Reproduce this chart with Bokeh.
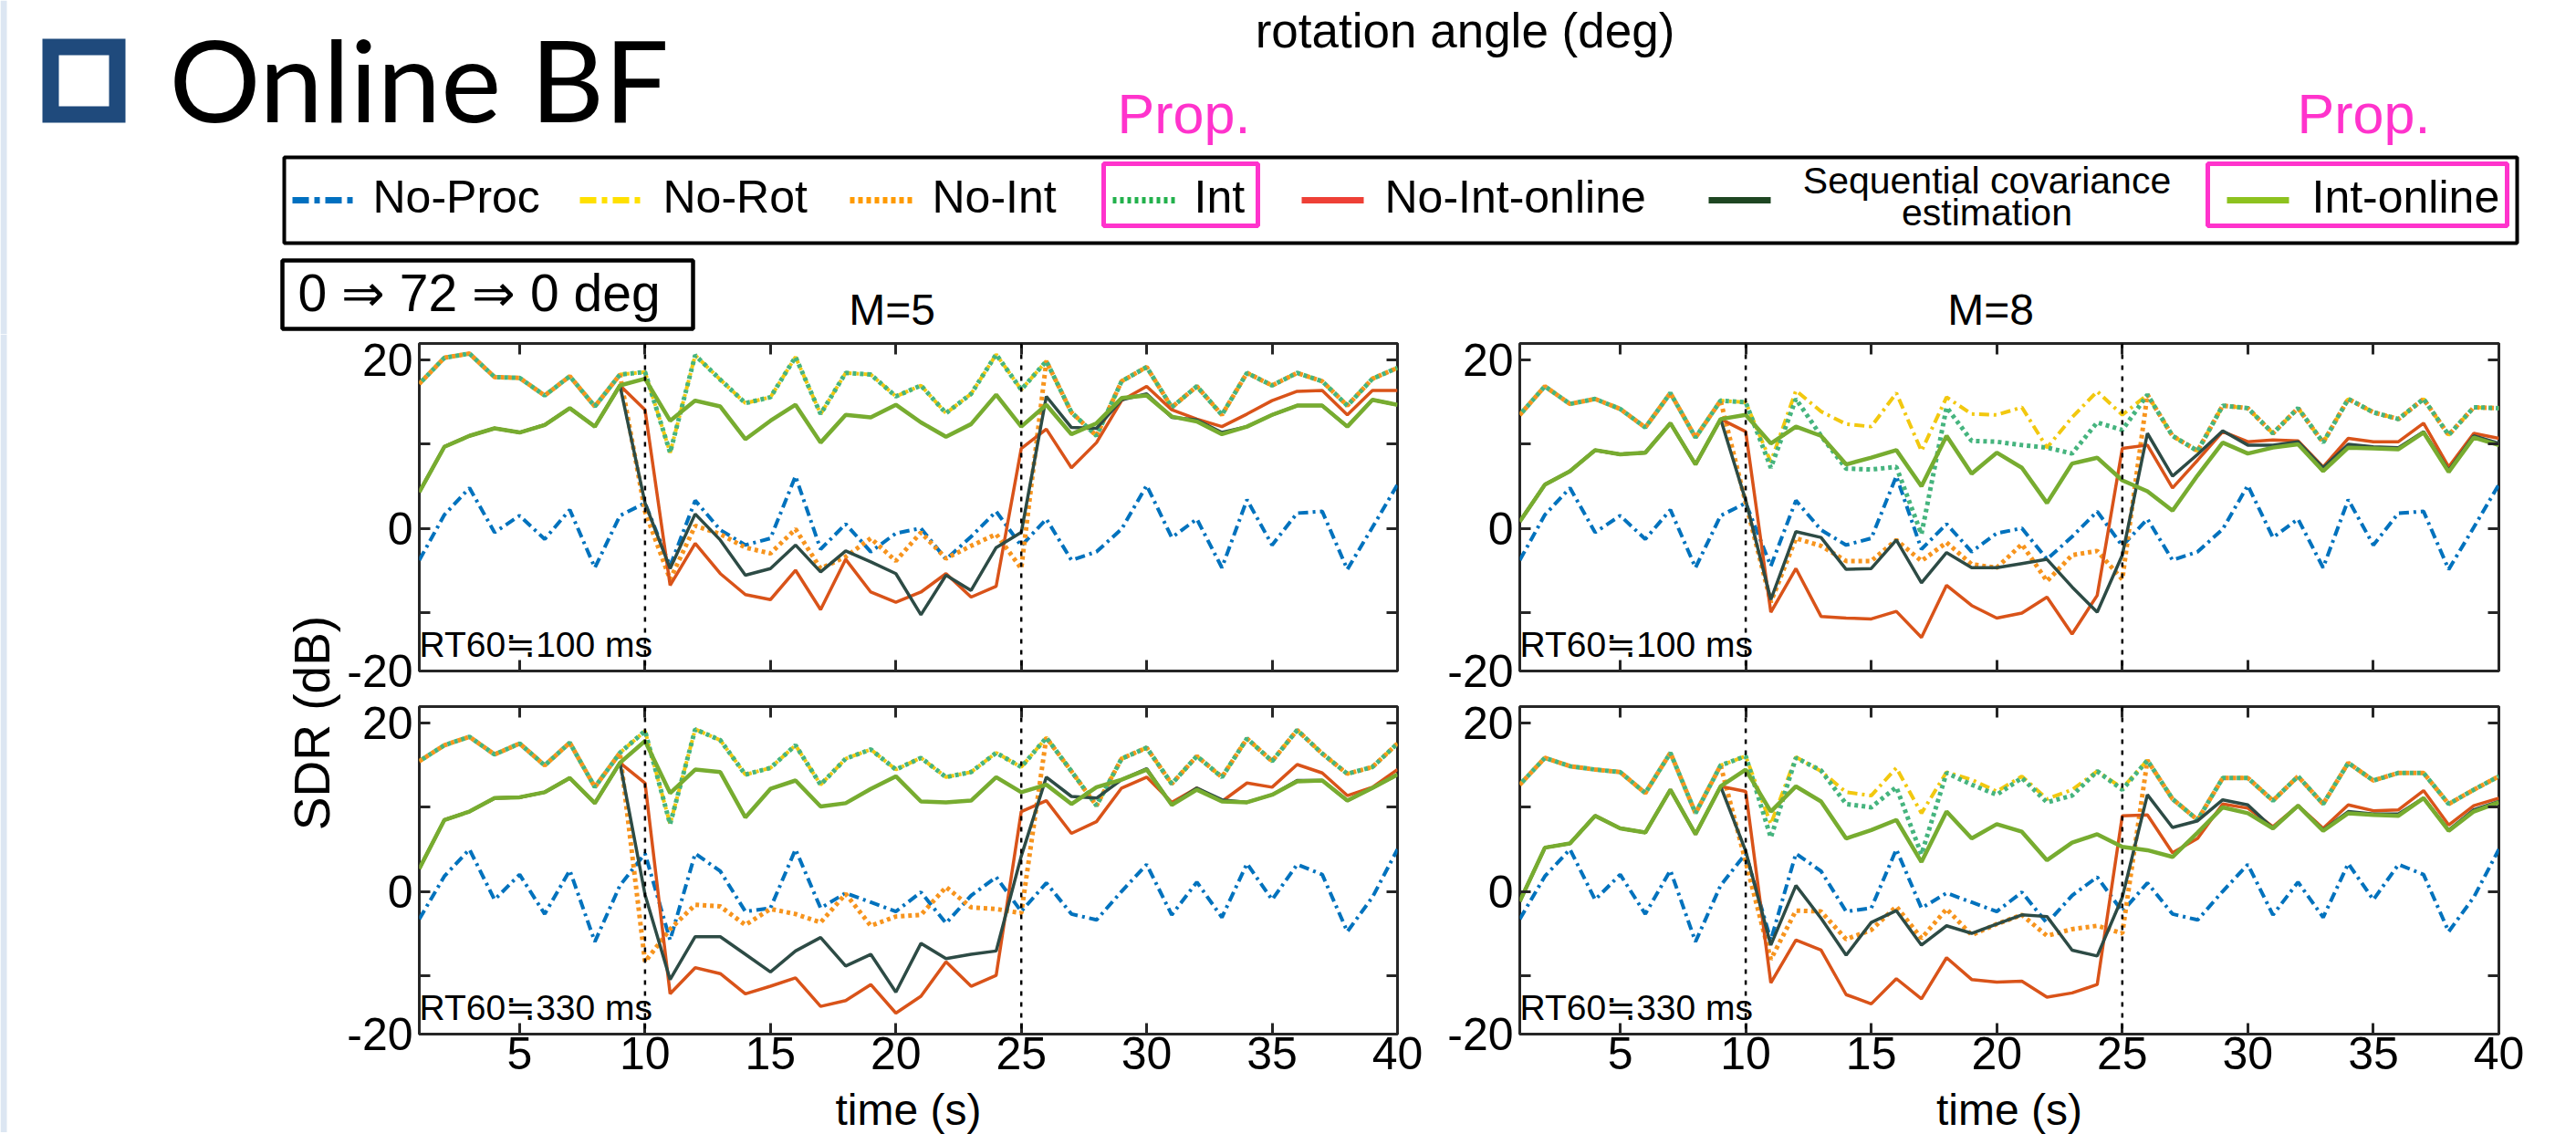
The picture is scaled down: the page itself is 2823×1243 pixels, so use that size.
import math
from bokeh.plotting import figure
from bokeh.layouts import column, row
from bokeh.models import Range1d, LinearAxis, FixedTicker, Span
from bokeh.embed import file_html
from bokeh.resources import INLINE
from bokeh.core.properties import value

FONT = "Liberation Sans"

# ---------------- data ----------------
TIME = list(range(1, 41))
X_LIM = (1, 40)
Y_LIM = (-17, 22)
X_TICKS = [5, 10, 15, 20, 25, 30, 35, 40]
Y_TICKS = [-10, 0, 10, 20]
Y_LABEL_OVERRIDES = {-17: "-20", -10: "", 10: ""}
CHANGE_TIMES = [10, 25]
PANEL_TITLES = ["M=5", "M=8"]
RT_LABELS = ["RT60≒100 ms", "RT60≒330 ms"]
X_TITLE = "time (s)"
Y_TITLE = "SDR (dB)"

NOPROC_RT100 = [-3.8, 1.6, 4.8, -0.5, 1.5, -1.3, 2.2, -4.7, 1.5, 3.0, -4.5, 3.3, -0.2, -2.0, -1.2, 6.2, -2.5, 0.5, -2.8, -0.6,
                0.0, -3.7, -1.0, 2.0, -2.1, 1.1, -3.8, -2.8, -0.1, 5.1, -1.1, 1.1, -4.7, 3.4, -2.0, 1.8, 2.0, -4.9, 0.1, 5.2]
NOPROC_RT330 = [-3.3, 1.8, 5.0, -1.0, 2.0, -2.7, 2.5, -6.0, 0.7, 4.5, -5.8, 4.5, 2.4, -2.4, -2.0, 5.0, -2.0, -0.2, -1.3, -2.4,
                -0.1, -3.8, -0.5, 1.7, -2.4, 1.0, -2.7, -3.4, 0.0, 3.2, -2.8, 1.1, -3.1, 3.3, -1.0, 3.2, 2.0, -4.8, -0.7, 5.0]

# M=5, RT60 100 ms
INT_M5_RT100 = [17.2, 20.3, 20.8, 18.0, 17.9, 15.8, 18.1, 14.5, 18.3, 18.6, 9.0, 20.6, 17.7, 14.9, 15.6, 20.4, 13.6, 18.5, 18.3, 15.7,
                17.0, 13.7, 16.0, 20.7, 16.5, 19.9, 13.8, 11.0, 17.5, 19.2, 14.4, 16.9, 13.5, 18.5, 17.0, 18.5, 17.5, 14.6, 17.8, 19.1]
NOROT_M5_RT100 = [17.2, 20.3, 20.8, 18.0, 17.9, 15.8, 18.1, 14.5, 18.3, 18.6, 9.0, 20.6, 17.7, 14.9, 15.6, 20.4, 13.6, 18.5, 18.3, 15.7,
                  17.0, 13.7, 16.0, 20.7, 16.5, 19.9, 13.8, 11.0, 17.5, 19.2, 14.4, 16.9, 13.5, 18.5, 17.0, 18.5, 17.5, 14.6, 17.8, 19.1]
NOINT_M5_RT100 = [17.2, 20.3, 20.8, 18.0, 17.9, 15.8, 18.1, 14.5, 18.3, 2.0, -6.1, 0.3, -0.7, -2.3, -3.0, -0.1, -4.8, -3.4, -1.2, -3.9,
                  -0.5, -3.6, -2.1, -0.7, -4.8, 19.9, 13.8, 11.0, 17.5, 19.2, 14.4, 16.9, 13.5, 18.5, 17.0, 18.5, 17.5, 14.6, 17.8, 19.1]
NOINTONLINE_M5_RT100 = [4.3, 9.7, 11.0, 11.9, 11.4, 12.3, 14.3, 12.1, 17.0, 14.1, -6.8, -1.8, -5.4, -7.9, -8.5, -5.0, -9.7, -3.7, -7.6, -8.8,
                        -7.6, -5.4, -8.2, -6.9, 9.5, 11.8, 7.2, 10.2, 15.2, 16.9, 14.1, 13.0, 12.1, 13.6, 15.2, 16.3, 16.4, 13.5, 16.4, 16.4]
SEQ_M5_RT100 = [4.3, 9.7, 11.0, 11.9, 11.4, 12.3, 14.3, 12.1, 17.0, 3.0, -4.8, 1.7, -1.4, -5.6, -4.8, -2.0, -5.2, -2.7, -4.0, -5.4,
                -10.3, -5.6, -7.4, -2.3, -0.5, 15.7, 12.0, 11.9, 15.3, 16.0, 13.2, 12.9, 11.4, 12.1, 13.5, 14.6, 14.6, 12.1, 15.3, 14.7]
INTONLINE_M5_RT100 = [4.3, 9.7, 11.0, 11.9, 11.4, 12.3, 14.3, 12.1, 17.0, 17.8, 12.8, 15.2, 14.5, 10.6, 12.8, 14.7, 10.2, 13.5, 13.2, 14.7,
                      12.6, 10.9, 12.4, 15.9, 12.1, 14.7, 11.2, 12.5, 15.5, 15.8, 13.3, 12.7, 11.2, 12.1, 13.5, 14.6, 14.6, 12.1, 15.3, 14.7]

# M=8, RT60 100 ms
INT_M8_RT100 = [13.5, 16.9, 14.8, 15.4, 14.2, 12.0, 16.1, 10.8, 15.2, 15.0, 7.2, 15.4, 11.0, 7.1, 7.0, 7.3, -0.7, 14.4, 10.4, 10.3,
                9.9, 9.6, 8.9, 12.6, 11.7, 15.9, 11.0, 9.2, 14.6, 14.3, 11.3, 14.3, 10.2, 15.4, 13.8, 13.0, 15.4, 11.1, 14.4, 14.3]
NOROT_M8_RT100 = [13.5, 16.9, 14.8, 15.4, 14.2, 12.0, 16.1, 10.8, 15.2, 15.0, 7.9, 16.4, 13.9, 12.4, 12.1, 16.1, 9.2, 15.6, 13.6, 13.5,
                  14.4, 9.6, 13.2, 16.3, 13.5, 15.9, 11.0, 9.2, 14.6, 14.3, 11.3, 14.3, 10.2, 15.4, 13.8, 13.0, 15.4, 11.1, 14.4, 14.3]
NOINT_M8_RT100 = [13.5, 16.9, 14.8, 15.4, 14.2, 12.0, 16.1, 10.8, 15.2, 3.0, -8.8, -1.2, -2.1, -3.9, -3.9, -1.4, -3.9, -1.7, -4.3, -4.7,
                  -1.9, -6.3, -3.2, -2.7, -6.1, 15.9, 11.0, 9.2, 14.6, 14.3, 11.3, 14.3, 10.2, 15.4, 13.8, 13.0, 15.4, 11.1, 14.4, 14.3]
NOINTONLINE_M8_RT100 = [0.8, 5.2, 6.8, 9.3, 8.8, 9.0, 12.5, 7.6, 13.0, 11.5, -10.0, -4.8, -10.5, -10.7, -10.8, -9.9, -13.0, -6.8, -9.2, -10.7,
                        -10.1, -8.2, -12.6, -8.0, 9.5, 9.9, 4.8, 8.1, 11.5, 10.3, 10.5, 10.4, 7.3, 10.7, 10.3, 10.3, 12.5, 7.3, 11.3, 10.7]
SEQ_M8_RT100 = [0.8, 5.2, 6.8, 9.3, 8.8, 9.0, 12.5, 7.6, 13.0, 3.3, -8.5, -0.4, -1.1, -4.9, -4.8, -1.4, -6.5, -2.9, -4.7, -4.7,
                -4.2, -3.7, -7.0, -10.0, -3.2, 11.3, 6.2, 8.8, 11.6, 9.9, 9.9, 10.3, 7.2, 10.0, 9.7, 9.6, 11.5, 6.9, 11.0, 10.1]
INTONLINE_M8_RT100 = [0.8, 5.2, 6.8, 9.3, 8.8, 9.0, 12.5, 7.6, 13.0, 13.5, 10.1, 12.1, 11.0, 7.6, 8.4, 9.3, 5.0, 11.0, 6.5, 9.0,
                      7.2, 3.0, 7.7, 8.4, 5.7, 4.4, 2.1, 6.3, 10.2, 8.9, 9.6, 10.0, 6.8, 9.6, 9.5, 9.4, 11.4, 6.7, 10.8, 9.9]

# M=5, RT60 330 ms
INT_M5_RT330 = [15.5, 17.4, 18.4, 16.3, 17.6, 15.0, 17.7, 12.4, 16.5, 19.1, 8.0, 19.3, 18.0, 13.9, 14.7, 17.4, 12.7, 15.8, 16.9, 14.5,
                15.9, 13.6, 14.2, 16.5, 14.8, 18.3, 14.3, 10.2, 15.8, 17.1, 12.8, 16.1, 13.6, 18.2, 15.5, 19.2, 16.4, 14.0, 14.8, 17.6]
NOROT_M5_RT330 = [15.5, 17.4, 18.4, 16.3, 17.6, 15.0, 17.7, 12.4, 16.5, 19.1, 8.0, 19.3, 18.0, 13.9, 14.7, 17.4, 12.7, 15.8, 16.9, 14.5,
                  15.9, 13.6, 14.2, 16.5, 14.8, 18.3, 14.3, 10.2, 15.8, 17.1, 12.8, 16.1, 13.6, 18.2, 15.5, 19.2, 16.4, 14.0, 14.8, 17.6]
NOINT_M5_RT330 = [15.5, 17.4, 18.4, 16.3, 17.6, 15.0, 17.7, 12.4, 16.5, -8.4, -4.5, -1.6, -1.8, -4.0, -2.1, -2.7, -3.7, -0.3, -4.1, -3.0,
                  -2.8, 0.5, -1.9, -2.1, -2.6, 18.3, 14.3, 10.2, 15.8, 17.1, 12.8, 16.1, 13.6, 18.2, 15.5, 19.2, 16.4, 14.0, 14.8, 17.6]
NOINTONLINE_M5_RT330 = [2.7, 8.5, 9.5, 11.1, 11.2, 11.8, 13.5, 10.5, 15.3, 12.9, -12.2, -9.1, -9.8, -12.2, -11.3, -10.3, -13.7, -13.0, -11.1, -14.5,
                        -12.5, -8.4, -11.3, -10.0, 9.5, 10.8, 6.9, 8.3, 12.3, 13.6, 10.6, 12.3, 10.7, 12.9, 12.4, 15.1, 14.1, 11.4, 12.4, 14.5]
SEQ_M5_RT330 = [2.7, 8.5, 9.5, 11.1, 11.2, 11.8, 13.5, 10.5, 15.3, -0.4, -10.5, -5.4, -5.4, -7.5, -9.6, -7.1, -5.5, -8.9, -7.5, -12.0,
                -6.2, -8.0, -7.5, -7.1, 4.2, 13.6, 11.3, 11.1, 13.3, 14.6, 10.3, 12.3, 10.9, 10.6, 11.5, 13.2, 13.2, 10.8, 12.3, 13.9]
INTONLINE_M5_RT330 = [2.7, 8.5, 9.5, 11.1, 11.2, 11.8, 13.5, 10.5, 15.3, 17.9, 11.7, 14.5, 14.2, 8.8, 12.2, 13.2, 10.1, 10.5, 12.2, 13.7,
                      10.7, 10.6, 10.8, 13.6, 11.8, 12.7, 10.4, 12.4, 13.3, 14.5, 10.3, 12.1, 10.7, 10.6, 11.5, 13.1, 13.2, 10.8, 12.3, 13.9]

# M=8, RT60 330 ms
INT_M8_RT330 = [12.7, 15.9, 14.9, 14.5, 14.2, 11.7, 16.5, 9.3, 15.0, 16.1, 6.4, 15.9, 14.4, 10.4, 10.0, 12.4, 4.4, 14.1, 12.7, 11.5,
                13.5, 10.6, 11.4, 14.3, 12.1, 15.6, 11.0, 8.5, 13.5, 13.5, 10.8, 13.7, 10.4, 15.3, 13.2, 14.1, 14.1, 10.4, 12.1, 13.7]
NOROT_M8_RT330 = [12.7, 15.9, 14.9, 14.5, 14.2, 11.7, 16.5, 9.3, 15.0, 16.1, 8.0, 16.0, 14.3, 11.8, 11.4, 14.7, 9.3, 14.2, 13.3, 11.9,
                  13.7, 11.0, 12.1, 14.3, 12.3, 15.6, 11.0, 8.5, 13.5, 13.5, 10.8, 13.7, 10.4, 15.3, 13.2, 14.1, 14.1, 10.4, 12.1, 13.7]
NOINT_M8_RT330 = [12.7, 15.9, 14.9, 14.5, 14.2, 11.7, 16.5, 9.3, 15.0, 3.5, -8.1, -2.3, -2.4, -5.7, -4.6, -1.8, -5.6, -2.1, -5.2, -3.9,
                  -2.8, -5.3, -4.5, -4.1, -5.0, 15.6, 11.0, 8.5, 13.5, 13.5, 10.8, 13.7, 10.4, 15.3, 13.2, 14.1, 14.1, 10.4, 12.1, 13.7]
NOINTONLINE_M8_RT330 = [-1.2, 5.2, 5.7, 9.0, 7.5, 7.0, 12.1, 6.8, 12.5, 11.9, -10.9, -5.8, -7.0, -12.3, -13.4, -10.4, -12.8, -7.9, -10.5, -10.8,
                        -10.7, -12.6, -12.1, -11.1, 9.0, 9.1, 4.6, 6.3, 10.4, 9.9, 7.7, 10.2, 7.5, 10.3, 9.6, 9.7, 12.0, 7.9, 10.2, 11.1]
SEQ_M8_RT330 = [-1.2, 5.2, 5.7, 9.0, 7.5, 7.0, 12.1, 6.8, 12.5, 4.8, -6.4, 0.7, -3.2, -7.6, -3.7, -2.3, -6.4, -4.1, -5.0, -3.9,
                -2.8, -3.0, -7.0, -7.7, -0.7, 11.5, 7.6, 8.4, 10.9, 10.3, 7.5, 10.2, 7.3, 9.5, 9.2, 9.2, 11.1, 7.3, 9.7, 10.7]
INTONLINE_M8_RT330 = [-1.2, 5.2, 5.7, 9.0, 7.5, 7.0, 12.1, 6.8, 12.5, 14.5, 9.5, 12.5, 10.7, 6.3, 7.3, 8.5, 3.5, 9.5, 6.3, 8.0,
                      7.1, 3.7, 5.8, 6.8, 5.3, 4.9, 4.1, 7.0, 10.0, 9.3, 7.5, 10.2, 7.2, 9.3, 9.1, 9.0, 11.1, 7.2, 9.5, 10.6]

SERIES_NAMES = ["No-Proc", "No-Rot", "No-Int", "Int", "No-Int-online", "Seq", "Int-online"]

PANEL_DATA = {
    ("M=5", 100): [NOPROC_RT100, NOROT_M5_RT100, NOINT_M5_RT100, INT_M5_RT100, NOINTONLINE_M5_RT100, SEQ_M5_RT100, INTONLINE_M5_RT100],
    ("M=8", 100): [NOPROC_RT100, NOROT_M8_RT100, NOINT_M8_RT100, INT_M8_RT100, NOINTONLINE_M8_RT100, SEQ_M8_RT100, INTONLINE_M8_RT100],
    ("M=5", 330): [NOPROC_RT330, NOROT_M5_RT330, NOINT_M5_RT330, INT_M5_RT330, NOINTONLINE_M5_RT330, SEQ_M5_RT330, INTONLINE_M5_RT330],
    ("M=8", 330): [NOPROC_RT330, NOROT_M8_RT330, NOINT_M8_RT330, INT_M8_RT330, NOINTONLINE_M8_RT330, SEQ_M8_RT330, INTONLINE_M8_RT330],
}

# ---------------- styles ----------------
STYLE = {
    "No-Proc": dict(line_color="#0072BD", line_width=4, line_dash="11 5 3 5"),
    "No-Rot": dict(line_color="#F2C80F", line_width=4, line_dash="11 5 3 5"),
    "No-Int": dict(line_color="#F7941D", line_width=5, line_dash="4 4"),
    "Int": dict(line_color="#45B47E", line_width=5, line_dash="4 4", line_dash_offset=4),
    "No-Int-online": dict(line_color="#D95319", line_width=3.5),
    "Seq": dict(line_color="#2D4B45", line_width=3.5),
    "Int-online": dict(line_color="#77AC30", line_width=4.5),
}
LEGEND_COLORS = {"No-Proc": "#0070C0", "No-Rot": "#FFE000", "No-Int": "#FF9A00", "Int": "#22B14C",
                 "No-Int-online": "#EE4036", "Seq": "#1E4622", "Int-online": "#8DC21F"}
AX = "#262626"
FRAME_H = 359
MAGENTA = "#FF33CC"
STRIP = "#DCE6F2"
PAGE_H = 1241


def style_axis(ax, labels, size="50px", standoff=6):
    ax.axis_line_color = None
    ax.major_tick_in = 12
    ax.major_tick_out = 0
    ax.minor_tick_line_color = None
    ax.major_tick_line_color = AX
    ax.major_tick_line_width = 3
    ax.major_label_text_font = FONT
    if labels:
        ax.major_label_text_color = "black"
        ax.major_label_text_font_size = size
        ax.major_label_standoff = standoff
    else:
        ax.major_label_text_color = None
        ax.major_label_text_font_size = "1px"
        ax.major_label_standoff = 0


def make_panel(key, rt_label, show_x, mbl, mbr, mbt, mbb, fw):
    p = figure(frame_width=fw, frame_height=FRAME_H, x_range=Range1d(*X_LIM), y_range=Range1d(*Y_LIM),
               output_backend="svg", toolbar_location=None,
               min_border_left=mbl, min_border_right=mbr, min_border_top=mbt, min_border_bottom=mbb)
    p.grid.visible = False
    p.outline_line_color = AX
    p.outline_line_width = 3
    p.background_fill_color = "white"
    p.border_fill_color = "white"

    xb = p.xaxis[0]
    xb.ticker = FixedTicker(ticks=X_TICKS)
    style_axis(xb, show_x, standoff=3)
    if show_x:
        xb.axis_label = X_TITLE
        xb.axis_label_text_font = FONT
        xb.axis_label_text_font_size = "48px"
        xb.axis_label_text_font_style = "normal"
        xb.axis_label_text_color = "black"
        xb.axis_label_standoff = 15
    yl = p.yaxis[0]
    yl.ticker = FixedTicker(ticks=[Y_LIM[0]] + Y_TICKS)
    yl.major_label_overrides = Y_LABEL_OVERRIDES
    style_axis(yl, True, standoff=7)

    yr = LinearAxis(ticker=FixedTicker(ticks=Y_TICKS))
    style_axis(yr, False)
    p.add_layout(yr, "right")
    xa = LinearAxis(ticker=FixedTicker(ticks=X_TICKS))
    style_axis(xa, False)
    p.add_layout(xa, "above")

    for t in CHANGE_TIMES:
        p.add_layout(Span(location=t, dimension="height", line_color="black", line_width=2.5, line_dash="5 7"))

    for name, vals in zip(SERIES_NAMES, PANEL_DATA[key]):
        p.line(TIME, vals, **STYLE[name])

    p.text(x=[X_LIM[0]], y=[Y_LIM[0]], text=[rt_label], x_offset=0, y_offset=-29,
           text_font=value(FONT), text_font_size="39px", text_baseline="middle",
           text_align="left", text_color="black")
    return p


SW = 377
HH = 366
ROW1_H = 10 + FRAME_H + 29
BOT_B = PAGE_H - (HH + ROW1_H + 10 + FRAME_H)

tl = make_panel(("M=5", 100), RT_LABELS[0], False, 457 - SW, 34, 10, 29, 1072)
tr = make_panel(("M=8", 100), RT_LABELS[0], False, 100, 60, 10, 29, 1073)
bl = make_panel(("M=5", 330), RT_LABELS[1], True, 457 - SW, 34, 10, BOT_B, 1072)
br = make_panel(("M=8", 330), RT_LABELS[1], True, 100, 60, 10, BOT_B, 1073)

TOTAL_W = SW + (457 - SW + 34 + 1072) + (100 + 60 + 1073)

# ---------------- header ----------------
hdr = figure(width=TOTAL_W, height=HH, x_range=Range1d(0, TOTAL_W), y_range=Range1d(HH, 0),
             min_border=0, toolbar_location=None, output_backend="svg",
             x_axis_location=None, y_axis_location=None)
hdr.grid.visible = False
hdr.outline_line_color = None
hdr.quad(left=[0], right=[7], top=[0], bottom=[HH], fill_color=STRIP, line_color=None)

# title icon + title
hdr.quad(left=[46], right=[137], top=[42], bottom=[134], fill_color="#1F4A7C", line_color=None)
hdr.quad(left=[64], right=[119], top=[60], bottom=[116], fill_color="white", line_color=None)
hdr.text(x=[185], y=[85], text=["Online BF"], text_font=value("Lato"), text_font_size="125px",
         text_baseline="middle", text_align="left", text_color="black")
hdr.text(x=[1605], y=[33], text=["rotation angle (deg)"], text_font=value(FONT), text_font_size="53px",
         text_baseline="middle", text_align="center", text_color="black")
hdr.text(x=[1297, 2590], y=[124, 124], text=["Prop.", "Prop."], text_font=value(FONT), text_font_size="61px",
         text_baseline="middle", text_align="center", text_color=MAGENTA)

# legend box
hdr.quad(left=[311], right=[2758], top=[172], bottom=[266], fill_color=None, line_color="black", line_width=4)
hdr.quad(left=[1209, 2419], right=[1378, 2747], top=[179, 179], bottom=[247, 247], fill_color=None,
         line_color=MAGENTA, line_width=5)
LEG_Y = 219
legend_items = [
    ("No-Proc", 320, 389, 408, "No-Proc", dict(line_dash="18 6 6 6")),
    ("No-Rot", 635, 705, 726, "No-Rot", dict(line_dash="18 6 6 6")),
    ("No-Int", 931, 1000, 1021, "No-Int", dict(line_dash="5 4")),
    ("Int", 1219, 1288, 1308, "Int", dict(line_dash="4 4")),
    ("No-Int-online", 1426, 1494, 1517, "No-Int-online", {}),
    ("Seq", 1872, 1940, None, None, {}),
    ("Int-online", 2440, 2508, 2533, "Int-online", {}),
]
for name, x0, x1, tx, label, extra in legend_items:
    hdr.line(x=[x0, x1], y=[LEG_Y, LEG_Y], line_color=LEGEND_COLORS[name], line_width=7, **extra)
    if label:
        hdr.text(x=[tx], y=[215], text=[label], text_font=value(FONT), text_font_size="50px",
                 text_baseline="middle", text_align="left", text_color="black")
hdr.text(x=[2177, 2177], y=[197, 232], text=["Sequential covariance", "estimation"], text_font=value(FONT),
         text_font_size="41px", text_baseline="middle", text_align="center", text_color="black")

# condition box
hdr.quad(left=[309], right=[759], top=[285], bottom=[360], fill_color=None, line_color="black", line_width=4.5)
hdr.text(x=[326], y=[320], text=["0 ⇒ 72 ⇒ 0 deg"], text_font=value(FONT), text_font_size="57px",
         text_baseline="middle", text_align="left", text_color="black")

# panel titles
hdr.text(x=[977, 2181], y=[339, 339], text=PANEL_TITLES, text_font=value(FONT), text_font_size="48px",
         text_baseline="middle", text_align="center", text_color="black")

# ---------------- y label ----------------
ROWS_H = PAGE_H - HH
sdr = figure(width=SW, height=ROWS_H, x_range=Range1d(0, SW), y_range=Range1d(HH + ROWS_H, HH),
             min_border=0, toolbar_location=None, output_backend="svg",
             x_axis_location=None, y_axis_location=None)
sdr.grid.visible = False
sdr.outline_line_color = None
sdr.quad(left=[0], right=[7], top=[HH], bottom=[HH + ROWS_H], fill_color=STRIP, line_color=None)
sdr.text(x=[341], y=[792], text=[Y_TITLE], angle=math.pi / 2, text_font=value(FONT), text_font_size="55px",
         text_baseline="middle", text_align="center", text_color="black")

layout = column(hdr, row(sdr, column(row(tl, tr), row(bl, br))))

open("out.html", "w").write(file_html(layout, INLINE))
